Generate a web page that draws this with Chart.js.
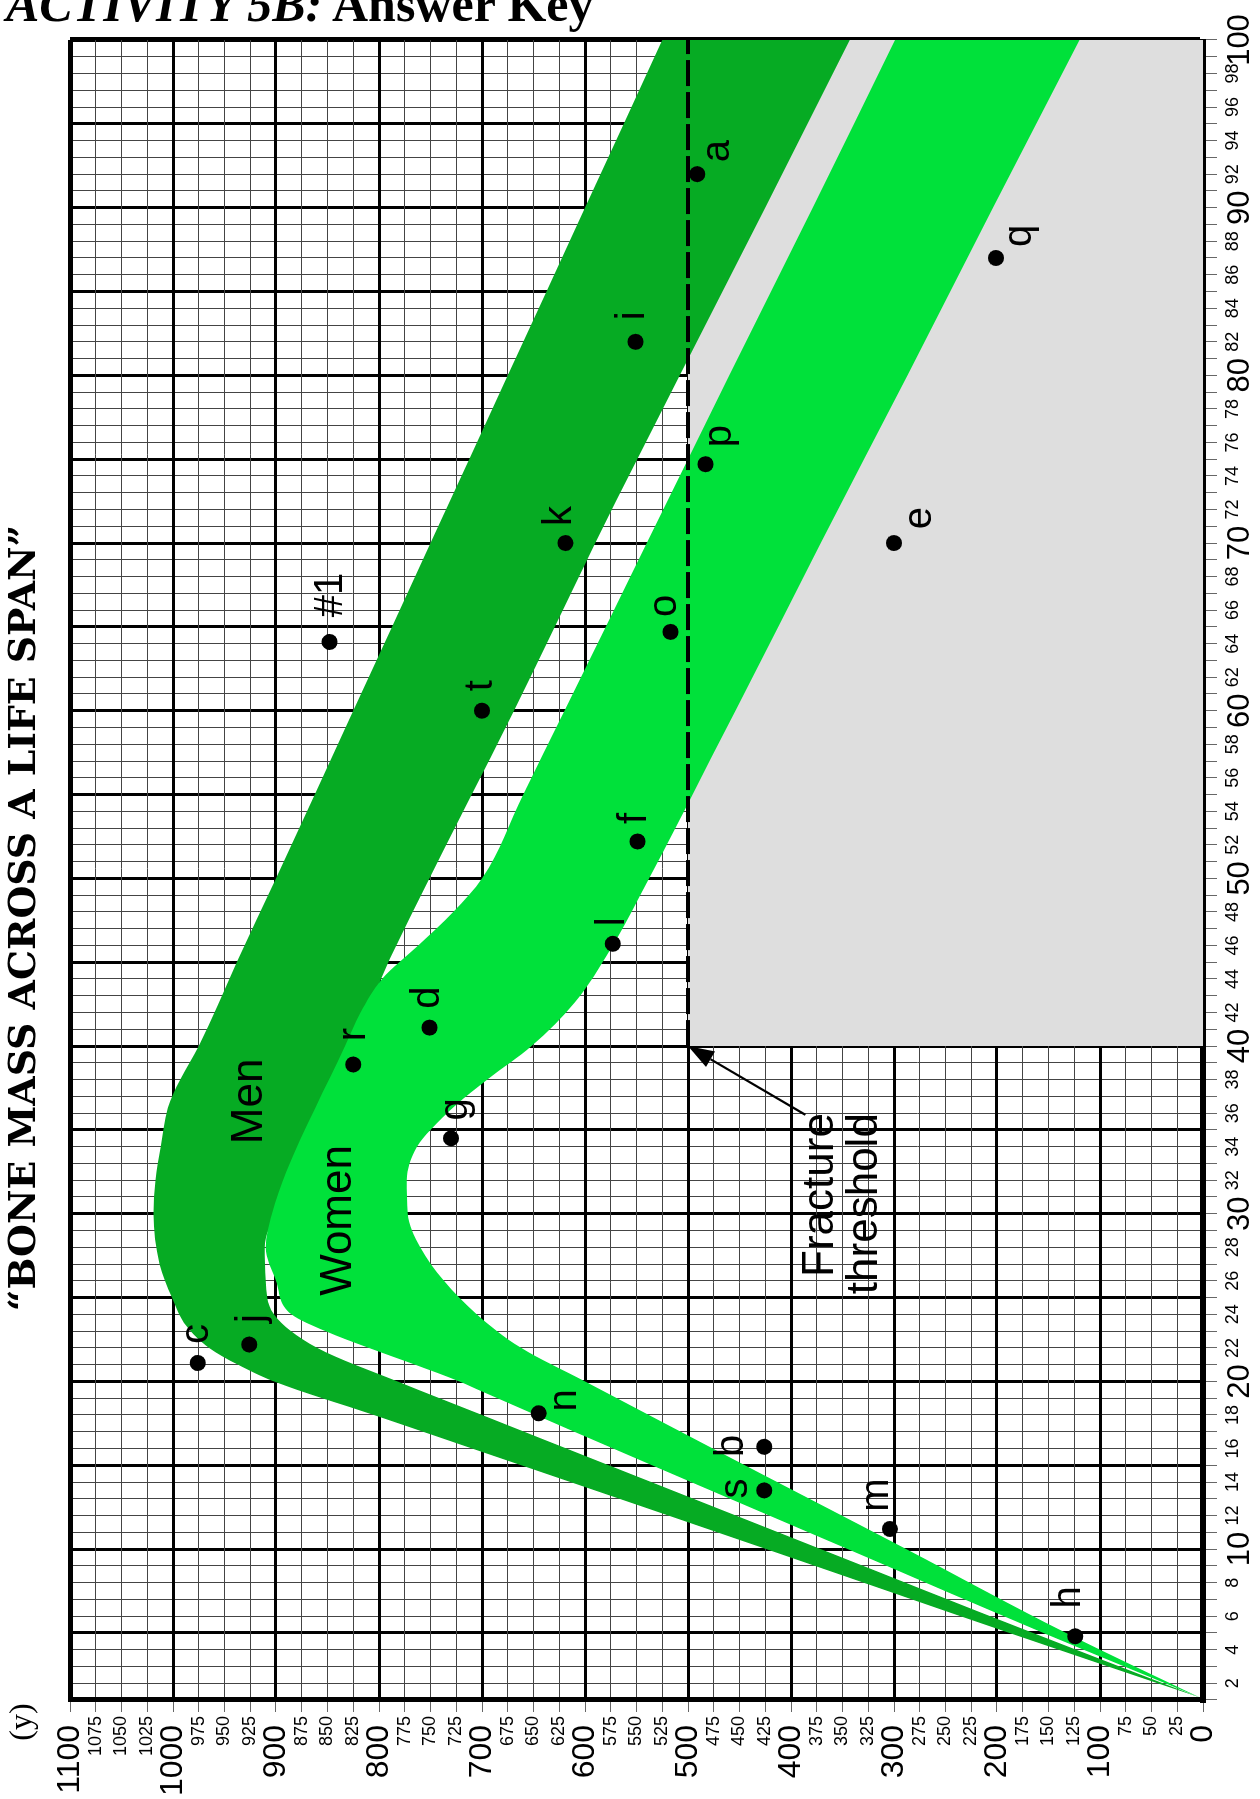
<!DOCTYPE html>
<html><head><meta charset="utf-8">
<script src="https://cdn.jsdelivr.net/npm/chart.js@4.4.1/dist/chart.umd.min.js"></script>
<style>
html,body{margin:0;padding:0;width:1260px;height:1799px;overflow:hidden;background:#fff;}
#rot{position:absolute;left:0;top:0;width:1799px;height:1260px;transform-origin:0 0;transform:translate(0px,1799px) rotate(-90deg);}
#c{background:#fff;}
#hdr{position:absolute;left:6px;top:-21px;font:bold 50px 'Liberation Serif',serif;line-height:50px;white-space:nowrap;color:#000;}
</style></head><body>
<div id="rot"><canvas id="c" width="1799" height="1260"></canvas></div>
<div id="hdr"><i>ACTIVITY 5B:</i> Answer Key</div>
<script>
// ---- tick values ----
const ageTicks = [1,2,3,4,5,6,7,8,9,10,11,12,13,14,15,16,17,18,19,20,21,22,23,24,25,26,27,28,29,30,31,32,33,34,35,36,37,38,39,40,41,42,43,44,45,46,47,48,49,50,51,52,53,54,55,56,57,58,59,60,61,62,63,64,65,66,67,68,69,70,71,72,73,74,75,76,77,78,79,80,81,82,83,84,85,86,87,88,89,90,91,92,93,94,95,96,97,98,99,100];
const ageLabelTicks = [2,4,6,8,10,12,14,16,18,20,22,24,26,28,30,32,34,36,38,40,42,44,46,48,50,52,54,56,58,60,62,64,66,68,70,72,74,76,78,80,82,84,86,88,90,92,94,96,98,100];
const massTicks = [0,25,50,75,100,125,150,175,200,225,250,275,300,325,350,375,400,425,450,475,500,525,550,575,600,625,650,675,700,725,750,775,800,825,850,875,900,925,950,975,1000,1025,1050,1075,1100];

// ---- bands (age, bone mass) ----
const menUpperAge  = [1.15, 5, 10, 15, 18, 20, 21, 22, 23.3, 25, 27, 30, 32, 34, 36.3, 38, 40, 45, 50, 60, 70, 80, 90, 100];
const menUpperMass = [3, 188, 424, 662, 805, 902, 937, 965, 987, 1001, 1013, 1019, 1017, 1012, 1005, 993, 975, 938, 900, 825, 750, 675, 600, 525];
const menLowerAge  = [1.15, 5, 10, 15, 18, 20, 22, 24, 26, 28, 32, 36, 40, 44, 48.9, 60, 70, 80, 90, 100];
const menLowerMass = [3, 165, 371, 577, 700, 782, 860, 902, 910, 911, 880, 850, 822, 798, 760, 669, 590, 508, 425, 343];
const womenUpperAge  = [1.15, 5, 10, 15, 19.4, 20, 21, 22, 23, 24, 26, 28, 30, 32.5, 36.3, 40, 42, 44, 46, 48, 50, 55, 60, 70, 80, 90, 100];
const womenUpperMass = [3, 155, 345, 535, 700, 722, 765, 810, 852, 885, 900, 910, 904, 890, 862, 833, 818, 797, 762, 728, 700, 660, 620, 540, 460, 379, 299];
const womenLowerAge  = [1.15, 5, 10, 16, 20, 22, 24, 26, 28, 30, 32, 34, 35, 36.5, 38, 40, 42.6, 45.7, 48.8, 60, 70, 80, 90, 100];
const womenLowerMass = [3, 133, 288, 476, 600, 662, 705, 737, 760, 772, 773, 763, 750, 725, 695, 652, 610, 576, 548, 454, 371, 287, 204, 120];

// ---- fracture threshold ----
const thresholdAge  = [40, 100];
const thresholdMass = [500, 500];

// ---- lettered points ----
const pointNames = ['a','b','c','d','e','f','g','h','i','j','k','l','m','n','o','p','q','r','s','t','#1'];
const pointAge   = [92, 16.1, 21.1, 41.1, 70, 52.2, 34.5, 4.8, 82, 22.2, 70, 46.1, 11.2, 18.1, 64.7, 74.7, 87, 38.9, 13.5, 60, 64.1];
const pointMass  = [491, 426, 976, 751, 300, 549, 730, 124, 551, 926, 619, 573, 304, 645, 517, 483, 201, 825, 426, 700, 848];

// ---- label layout (pixel shifts, drawing frame) ----
const labelShiftRight = [23, 1, 29, 30, 25, 23, 29, 39, 26, 26, 27, 22, 34, 13, 26, 28, 22, 30, 2, 25, 47];
const labelShiftDown  = [21, -32, -1, -2, 26, -3, 5, -6, -3, 4, -5, 0, -13, 26, -6, 14, 24, 1, -28, -1, 1];

const MEN = '#06ab23';
const WOMEN = '#00e13a';
const SANS = "'Liberation Sans', Arial, sans-serif";

const pts = (a, m) => a.map((v, i) => ({x: v, y: m[i]}));

const annotate = {
  id: 'annotate',
  afterDraw(chart) {
    const {ctx, scales: {x, y}} = chart;
    ctx.save();
    ctx.fillStyle = '#000';
    // title
    ctx.textAlign = 'center';
    ctx.textBaseline = 'alphabetic';
    let ts = 36;
    ctx.font = 'bold ' + ts + "px 'DejaVu Serif', serif";
    const title = '\u201CBONE MASS ACROSS A LIFE SPAN\u201D';
    const w = ctx.measureText(title).width;
    ts = ts * 787 / w;
    ctx.font = 'bold ' + ts.toFixed(1) + "px 'DejaVu Serif', serif";
    ctx.fillText(title, 881, 35);
    // axis title
    ctx.font = "32px 'Liberation Serif', serif";
    ctx.textBaseline = 'middle';
    ctx.fillText('(y)', x.getPixelForValue(1) - 22, y.getPixelForValue(1100) - 47);
    // point labels
    ctx.font = '40px ' + SANS;
    pointNames.forEach((n, i) => {
      ctx.fillText(n, x.getPixelForValue(pointAge[i]) + labelShiftRight[i], y.getPixelForValue(pointMass[i]) + labelShiftDown[i]);
    });
    // band names
    ctx.font = '44px ' + SANS;
    ctx.fillText('Men', x.getPixelForValue(36.7), y.getPixelForValue(925));
    ctx.fillText('Women', x.getPixelForValue(29.6), y.getPixelForValue(839));
    ctx.textAlign = 'right';
    ctx.fillText('Fracture', x.getPixelForValue(36.0), y.getPixelForValue(371));
    ctx.fillText('threshold', x.getPixelForValue(36.0), y.getPixelForValue(328));
    // arrow to the threshold corner
    const sx = x.getPixelForValue(35.9), sy = y.getPixelForValue(386);
    const tx = x.getPixelForValue(thresholdAge[0]), ty = y.getPixelForValue(thresholdMass[0]);
    const ang = Math.atan2(ty - sy, tx - sx);
    const hl = 26, hw = 9;
    const bx = tx - hl * Math.cos(ang), by = ty - hl * Math.sin(ang);
    ctx.strokeStyle = '#000';
    ctx.lineWidth = 2.2;
    ctx.beginPath(); ctx.moveTo(sx, sy); ctx.lineTo(bx, by); ctx.stroke();
    ctx.beginPath();
    ctx.moveTo(tx, ty);
    ctx.lineTo(bx + hw * Math.sin(ang), by - hw * Math.cos(ang));
    ctx.lineTo(bx - hw * Math.sin(ang), by + hw * Math.cos(ang));
    ctx.closePath(); ctx.fill();
    ctx.restore();
  }
};

const band = (label, a, m, fill, color, order) => ({
  label, data: pts(a, m), borderColor: 'rgba(0,0,0,0)', borderWidth: 0, pointRadius: 0,
  fill: fill, backgroundColor: color, cubicInterpolationMode: 'monotone', order
});

new Chart(document.getElementById('c'), {
  type: 'line',
  data: {
    datasets: [
      {label: 'points', data: pts(pointAge, pointMass), showLine: false, pointRadius: 8, pointHoverRadius: 8,
       pointBackgroundColor: '#000', pointBorderColor: '#000', pointBorderWidth: 0, order: 0},
      {label: 'Fracture threshold', data: pts(thresholdAge, thresholdMass), borderColor: '#000', borderWidth: 4,
       borderDash: [26, 6], pointRadius: 0, fill: false, order: 1},
      band('Women', womenUpperAge, womenUpperMass, '+1', WOMEN, 2),
      band('Women low', womenLowerAge, womenLowerMass, false, WOMEN, 3),
      band('Men', menUpperAge, menUpperMass, '+1', MEN, 4),
      band('Men low', menLowerAge, menLowerMass, false, MEN, 5),
      {label: 'zone', data: pts(thresholdAge, thresholdMass), borderColor: 'rgba(0,0,0,0)', borderWidth: 0,
       pointRadius: 0, fill: 'origin', backgroundColor: '#dedede', order: 6}
    ]
  },
  options: {
    responsive: false, animation: false, events: [],
    layout: {padding: {left: 0, right: 40, top: 70, bottom: 0}},
    plugins: {legend: {display: false}, tooltip: {enabled: false}, title: {display: false}},
    scales: {
      x: {
        type: 'linear', position: 'bottom', min: 1, max: 100, z: 1,
        afterBuildTicks: s => { s.ticks = ageTicks.map(v => ({value: v})); },
        afterFit: s => { s.height = 57; },
        ticks: {
          autoSkip: false, maxRotation: 0, minRotation: 0, padding: 5, color: '#000',
          callback: v => ageLabelTicks.includes(v) ? String(v) : '',
          font: c => ({family: SANS, size: (c.tick && c.tick.value % 10 === 0) ? 31 : 18})
        },
        grid: {
          color: c => (c.tick && c.tick.value % 5 === 0) ? '#000' : '#444',
          lineWidth: c => !c.tick ? 1 : (c.tick.value === 100 ? 5 : (c.tick.value % 5 === 0 ? 3 : 1)),
          tickLength: 14, tickWidth: 1, tickColor: '#666'
        },
        border: {display: true, color: '#000', width: 6}
      },
      y: {
        type: 'linear', position: 'left', min: 0, max: 1100, z: 1,
        afterBuildTicks: s => { s.ticks = massTicks.map(v => ({value: v})); },
        afterFit: s => { s.width = 99; },
        ticks: {
          autoSkip: false, padding: 4, color: '#000',
          callback: v => (v % 100 === 0) ? String(v) + ' ' : String(v),
          font: c => ({family: SANS, size: (c.tick && c.tick.value % 100 === 0) ? 32 : 18})
        },
        grid: {
          color: c => (c.tick && c.tick.value % 100 === 0) ? '#000' : '#444',
          lineWidth: c => !c.tick ? 1 : (c.tick.value === 1100 ? 5 : (c.tick.value % 100 === 0 ? 3 : 1)),
          tickLength: 12, tickWidth: 1, tickColor: '#666'
        },
        border: {display: true, color: '#000', width: 5}
      }
    }
  },
  plugins: [annotate]
});
</script></body></html>
